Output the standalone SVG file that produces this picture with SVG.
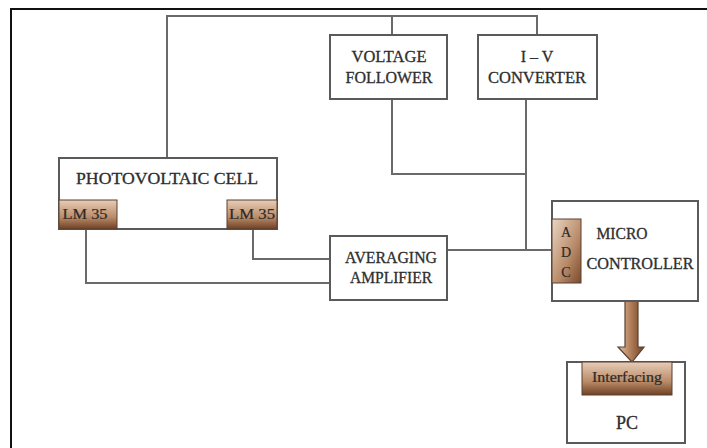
<svg xmlns="http://www.w3.org/2000/svg" width="707" height="448" viewBox="0 0 707 448">
<style>
.box{fill:#fff;stroke:#5a5a5a;stroke-width:2}
.wire{fill:none;stroke:#6a6a6a;stroke-width:2}
.t{font-family:"Liberation Serif","Times New Roman",serif;font-size:16px;fill:#2e2e2e;stroke:#2e2e2e;stroke-width:0.3;text-anchor:middle}
.s{font-family:"Liberation Serif","Times New Roman",serif;font-size:14px;fill:#2a2a2a;stroke:#2a2a2a;stroke-width:0.2;text-anchor:middle}
.chip{stroke:#5a4030;stroke-width:1}
</style>
<defs>
<linearGradient id="gv" x1="0" y1="0" x2="0" y2="1">
<stop offset="0" stop-color="#e6cdb8"/>
<stop offset="0.6" stop-color="#b98a66"/>
<stop offset="1" stop-color="#6e4126"/>
</linearGradient>
<linearGradient id="ga" x1="0" y1="0" x2="1" y2="1">
<stop offset="0" stop-color="#ead6c4"/>
<stop offset="0.6" stop-color="#b88a68"/>
<stop offset="1" stop-color="#7a4a2c"/>
</linearGradient>
<linearGradient id="gh" x1="0" y1="0" x2="1" y2="0">
<stop offset="0" stop-color="#e2c3a8"/>
<stop offset="0.5" stop-color="#b07c58"/>
<stop offset="1" stop-color="#6e4126"/>
</linearGradient>
</defs>
<path d="M11,448 V9 H707" fill="none" stroke="#111" stroke-width="2"/>
<g id="connectors">
<path class="wire" d="M167,158 V16 H537 V35"/>
<path class="wire" d="M392,16 V35"/>
<path class="wire" d="M392,99 V174 H526"/>
<path class="wire" d="M526,99 V250"/>
<path class="wire" d="M447,250 H552"/>
<path class="wire" d="M86,229 V283 H330"/>
<path class="wire" d="M253,229 V259 H330"/>
<path d="M625,301 V347 H618 L632,362 L644,347 H638 V301 Z" fill="url(#gh)" stroke="#5a4030" stroke-width="1.2"/>
</g>
<g id="voltage-follower">
<rect class="box" x="330" y="35" width="117" height="64"/>
<text class="t" x="389" y="62" textLength="75" lengthAdjust="spacingAndGlyphs">VOLTAGE</text>
<text class="t" x="389" y="83" textLength="87" lengthAdjust="spacingAndGlyphs">FOLLOWER</text>
</g>
<g id="iv-converter">
<rect class="box" x="478" y="35" width="119" height="64"/>
<text class="t" x="537" y="62">I – V</text>
<text class="t" x="537" y="83" textLength="98" lengthAdjust="spacingAndGlyphs">CONVERTER</text>
</g>
<g id="photovoltaic-cell">
<rect class="box" x="59" y="158" width="218" height="71"/>
<text class="t" x="167" y="184" textLength="182" lengthAdjust="spacingAndGlyphs">PHOTOVOLTAIC CELL</text>
</g>
<g id="lm35-left">
<rect class="chip" x="59" y="200" width="58" height="29" fill="url(#gv)"/>
<text class="s" x="85" y="219" textLength="45" lengthAdjust="spacingAndGlyphs">LM 35</text>
</g>
<g id="lm35-right">
<rect class="chip" x="227" y="200" width="50" height="29" fill="url(#gv)"/>
<text class="s" x="252" y="219" textLength="46" lengthAdjust="spacingAndGlyphs">LM 35</text>
</g>
<g id="averaging-amplifier">
<rect class="box" x="330" y="236" width="117" height="64"/>
<text class="t" x="391" y="263" textLength="92" lengthAdjust="spacingAndGlyphs">AVERAGING</text>
<text class="t" x="391" y="283" textLength="82" lengthAdjust="spacingAndGlyphs">AMPLIFIER</text>
</g>
<g id="microcontroller">
<rect class="box" x="552" y="201" width="146" height="100"/>
<text class="t" x="622" y="239" textLength="51" lengthAdjust="spacingAndGlyphs">MICRO</text>
<text class="t" x="640" y="269" textLength="107" lengthAdjust="spacingAndGlyphs">CONTROLLER</text>
</g>
<g id="adc">
<rect class="chip" x="552" y="219" width="29" height="64" fill="url(#ga)"/>
<text class="s" x="566" y="237">A</text>
<text class="s" x="566" y="257">D</text>
<text class="s" x="566" y="277">C</text>
</g>
<g id="pc">
<rect class="box" x="567" y="362" width="118" height="81"/>
<text class="t" x="627" y="429" style="font-size:18px">PC</text>
</g>
<g id="interfacing">
<rect class="chip" x="582" y="362" width="90" height="33" fill="url(#gv)"/>
<text class="s" x="627" y="382" textLength="70" lengthAdjust="spacingAndGlyphs">Interfacing</text>
</g>
</svg>
